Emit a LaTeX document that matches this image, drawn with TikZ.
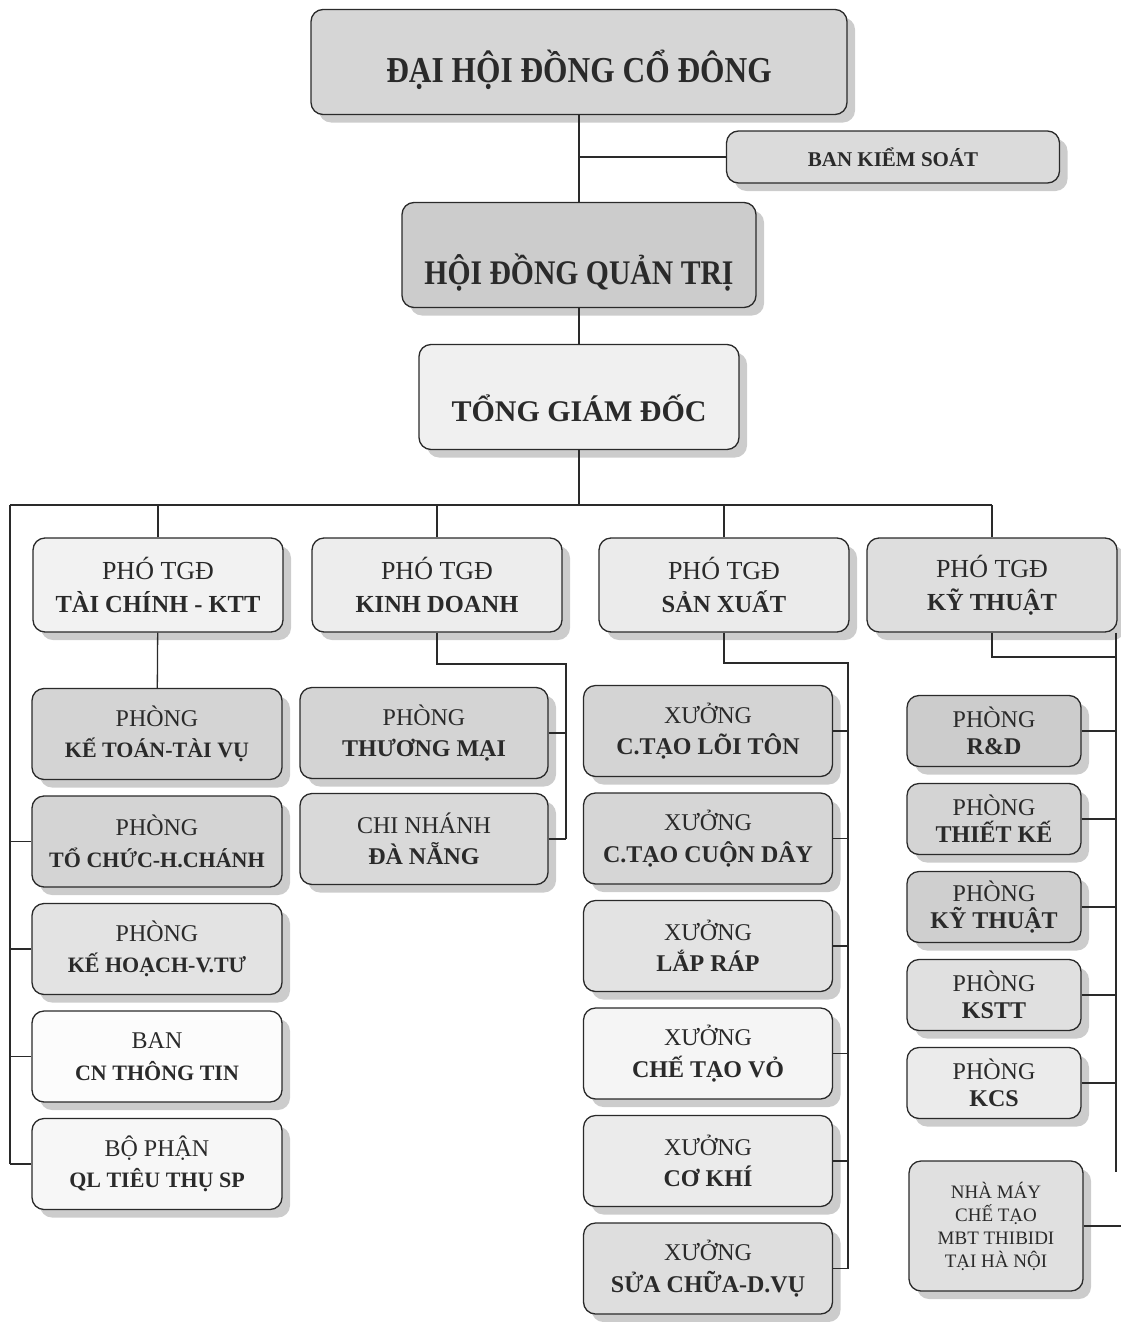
\documentclass[tikz,border=0pt]{standalone}
\usepackage{fontspec}
\setmainfont{Liberation Serif}
\newfontfamily\narrowserif[FakeStretch=0.86]{Liberation Serif}
\usetikzlibrary{shadows}

\definecolor{ink}{HTML}{2A2A2A}
\newcommand{\bname}[2][24]{{\fontsize{#1}{31}\selectfont\bfseries #2}}

\tikzstyle{unit} = [rectangle, draw=ink, line width=1.3pt, rounded corners=12pt, align=center, text=ink, inner sep=0pt,
  drop shadow={shadow xshift=8pt, shadow yshift=-8pt, fill=black!20, opacity=1}]
\tikzstyle{head} = [unit, font=\narrowserif\fontsize{36.5}{40}\selectfont\bfseries, minimum height=105pt, text depth=0pt]
\tikzstyle{pho} = [unit, font=\fontsize{26}{33}\selectfont, minimum width=250pt, minimum height=94pt]
\tikzstyle{dept} = [unit, font=\fontsize{24}{31.5}\selectfont, minimum width=249pt, minimum height=91pt]
\tikzstyle{room} = [unit, font=\fontsize{24}{27}\selectfont, minimum width=174pt, minimum height=71pt]
\tikzstyle{line} = [draw=ink, line width=1.3pt]

\begin{document}
\begin{tikzpicture}
    [x=1pt, y=-1pt, node distance=107.5pt]
  \useasboundingbox (0,0) rectangle (1121,1322);
  % top of the chart
  \node[head, fill=black!16, minimum width=536pt, text height=41pt] (dhcd) at (579,62) {ĐẠI HỘI ĐỒNG CỔ ĐÔNG};
  \node[unit, fill=black!14, minimum width=333pt, minimum height=52pt, font=\fontsize{21}{24}\selectfont\bfseries] (bks) at (893,157) {BAN KIỂM SOÁT};
  \node[head, fill=black!20, minimum width=354pt, font=\narrowserif\fontsize{34.5}{40}\selectfont\bfseries, text height=59pt] (hdqt) at (579,255) {HỘI ĐỒNG QUẢN TRỊ};
  \node[head, fill=black!6, minimum width=320pt, font=\fontsize{30}{36}\selectfont\bfseries, text height=49pt] (tgd) at (579,397) {TỔNG GIÁM ĐỐC};
  \coordinate (bus) at (579,505);
  \coordinate (busL) at (10,505);
  % deputies
  \node[pho, fill=black!5] (ptc) at (158,585) {PHÓ TGĐ\\\bname[24.5]{TÀI CHÍNH - KTT}};
  \node[pho, fill=black!7] (pkd) at (437,585) {PHÓ TGĐ\\\bname[24.5]{KINH DOANH}};
  \node[pho, fill=black!8] (psx) at (724,585) {PHÓ TGĐ\\\bname[24.5]{SẢN XUẤT}};
  \node[pho, fill=black!13] (pkt) at (992,585) {PHÓ TGĐ\\\bname[24.5]{KỸ THUẬT}};
  % finance column
  \node[dept, fill=black!17, minimum width=250pt] (ketoan) at (157,734) {PHÒNG\\\bname[22]{KẾ TOÁN-TÀI VỤ}};
  \node[dept, fill=black!17, minimum width=250pt, below of=ketoan] (tochuc) {PHÒNG\\\bname[22]{TỔ CHỨC-H.CHÁNH}};
  \node[dept, fill=black!11, minimum width=250pt, below of=tochuc] (kehoach) {PHÒNG\\\bname[22]{KẾ HOẠCH-V.TƯ}};
  \node[dept, fill=black!1, minimum width=250pt, below of=kehoach] (bancn) {BAN\\\bname[22]{CN THÔNG TIN}};
  \node[dept, fill=black!3, minimum width=250pt, below of=bancn] (bophan) {BỘ PHẬN\\\bname[22]{QL TIÊU THỤ SP}};
  % business column
  \node[dept, fill=black!17, minimum width=248pt] (thuongmai) at (424,733) {PHÒNG\\\bname{THƯƠNG MẠI}};
  \node[dept, fill=black!15, minimum width=248pt, node distance=106pt, below of=thuongmai] (chinhanh) {CHI NHÁNH\\\bname{ĐÀ NẴNG}};
  % production column
  \node[dept, fill=black!17] (loiton) at (708,731) {XƯỞNG\\\bname{C.TẠO LÕI TÔN}};
  \node[dept, fill=black!16, below of=loiton] (cuonday) {XƯỞNG\\\bname{C.TẠO CUỘN DÂY}};
  \node[dept, fill=black!11, below of=cuonday] (laprap) {XƯỞNG\\\bname{LẮP RÁP}};
  \node[dept, fill=black!4, below of=laprap] (vo) {XƯỞNG\\\bname{CHẾ TẠO VỎ}};
  \node[dept, fill=black!8, below of=vo] (cokhi) {XƯỞNG\\\bname{CƠ KHÍ}};
  \node[dept, fill=black!13, below of=cokhi] (suachua) {XƯỞNG\\\bname{SỬA CHỮA-D.VỤ}};
  % technical column
  \node[room, fill=black!20] (rd) at (994,731) {PHÒNG\\\bname{R\&D}};
  \node[room, fill=black!17, node distance=88pt, below of=rd] (thietke) {PHÒNG\\\bname{THIẾT KẾ}};
  \node[room, fill=black!19, node distance=88pt, below of=thietke] (kythuat) {PHÒNG\\\bname{KỸ THUẬT}};
  \node[room, fill=black!12, node distance=88pt, below of=kythuat] (kstt) {PHÒNG\\\bname{KSTT}};
  \node[room, fill=black!8, node distance=88pt, below of=kstt] (kcs) {PHÒNG\\\bname{KCS}};
  \node[room, fill=black!12, minimum height=130pt, font=\fontsize{19}{23}\selectfont] (nhamay) at (996,1226) {NHÀ MÁY\\CHẾ TẠO\\MBT THIBIDI\\TẠI HÀ NỘI};
  \coordinate (kdbus) at (566,664);
  \coordinate (sxbus) at (848,663);
  \coordinate (ktbus) at (1116,657);
  \coordinate (ktend) at (1116,1172);
  \coordinate (rim) at (1121,1226);
  % connectors
  \draw[line] (dhcd) -- (hdqt);
  \draw[line] (bks) -- (bks -| dhcd);
  \draw[line] (hdqt) -- (tgd);
  \draw[line] (tgd) -- (bus);
  \draw[line] (busL) -- (bus -| pkt);
  \foreach \n in {ptc, pkd, psx, pkt}
    \draw[line] (\n) -- (\n |- bus);
  \draw[line] (busL) -- (busL |- bophan);
  \foreach \n in {tochuc, kehoach, bancn, bophan}
    \draw[line] (\n) -- (\n -| busL);
  \draw[line] (ptc) -- (ketoan);
  \draw[line] (pkd) |- (kdbus) -- (kdbus |- chinhanh);
  \foreach \n in {thuongmai, chinhanh}
    \draw[line] (\n) -- (\n -| kdbus);
  \draw[line] (psx) |- (sxbus) -- (sxbus |- suachua);
  \foreach \n in {loiton, cuonday, laprap, vo, cokhi, suachua}
    \draw[line] (\n) -- (\n -| sxbus);
  \draw[line] (pkt) |- (ktbus);
  \draw[line] (ktbus |- pkt.south) -- (ktend);
  \foreach \n in {rd, thietke, kythuat, kstt, kcs}
    \draw[line] (\n) -- (\n -| ktbus);
  \draw[line] (nhamay) -- (nhamay -| rim);
\end{tikzpicture}
\end{document}
